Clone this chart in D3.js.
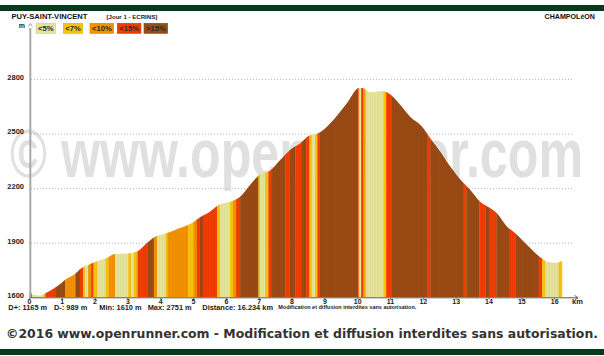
<!DOCTYPE html>
<html><head><meta charset="utf-8">
<script src="https://cdn.jsdelivr.net/npm/d3@7/dist/d3.min.js"></script>
<style>
html,body{margin:0;padding:0;background:#fff;}
svg{display:block;font-family:"Liberation Sans",Arial,Helvetica,sans-serif;}
</style>
</head><body>
<svg id="chart" width="604" height="356"></svg>
<script>
// ---- data ----
const distKm = [0,0.05,0.14,0.32,0.46,0.72,0.97,1.12,1.38,1.58,1.84,2.09,2.34,2.60,3.00,3.31,3.57,3.83,4.08,4.49,4.99,5.20,5.50,5.76,6.11,6.42,6.72,7.03,7.33,7.64,7.94,8.25,8.50,8.80,9.06,9.26,9.67,10.05,10.18,10.38,10.74,10.94,11.30,11.60,11.96,12.21,12.52,12.82,13.23,13.43,13.73,14.04,14.24,14.55,14.80,15.16,15.56,15.77,16.02,16.234];
const elevM = [1625,1622,1612,1610,1620,1645,1677,1700,1726,1759,1781,1801,1814,1838,1840,1854,1897,1933,1946,1974,2012,2040,2070,2107,2125,2153,2217,2276,2296,2354,2409,2446,2486,2501,2537,2574,2666,2751,2748,2726,2733,2721,2657,2592,2537,2474,2400,2318,2226,2190,2125,2089,2062,1988,1952,1887,1820,1796,1790,1799];
const segStartKm = [0,0.076,0.421,0.488,0.808,1.091,1.402,1.534,1.631,1.701,1.790,1.881,1.951,2.073,2.317,2.409,2.607,3.012,3.095,3.186,3.262,3.308,3.598,3.790,3.887,4.146,4.207,4.832,4.994,5.098,5.183,5.280,5.716,5.808,6.113,6.204,6.296,6.418,6.976,7.027,7.180,7.280,7.384,7.790,7.921,8.095,8.299,8.430,8.530,8.604,8.704,8.774,8.835,10.000,10.030,10.107,10.168,10.213,10.259,10.793,10.869,11.021,12.110,12.210,13.226,13.308,13.704,13.887,14.018,14.223,14.628,14.802,15.512,15.616,15.716,16.122];
const segClass = [3,0,1,3,4,2,4,3,1,0,2,3,1,0,1,2,0,1,0,1,2,3,4,2,0,1,2,1,2,3,4,3,1,0,1,2,3,4,1,0,1,3,4,3,4,3,4,3,1,0,1,3,4,3,0,3,2,1,0,1,3,4,3,4,3,4,3,4,3,4,3,4,3,1,0,1];
const classLabels = ["<5%","<7%","<10%","<15%",">15%"];
const classColors = ["#e6e39b","#f6c40e","#f39200","#f23c00","#9a4a15"];
const yTicks = [1600,1900,2200,2500,2800];
const xTicks = [0,1,2,3,4,5,6,7,8,9,10,11,12,13,14,15,16];
const totalKm = 16.234;
const startName = "PUY-SAINT-VINCENT";
const endName = "CHAMPOLéON";
const stageLabel = "[Jour 1 - ECRINS]";
const statsLabels = ["D+: 1165 m","D-: 989 m","Min: 1610 m","Max: 2751 m","Distance: 16.234 km"];
const noticeSmall = "Modification et diffusion interdites sans autorisation.";
const watermark = "© www.openrunner.com";
const copyright = "©2016 www.openrunner.com - Modification et diffusion interdites sans autorisation.";

// ---- drawing ----
const svg = d3.select("#chart");
const x = d3.scaleLinear().domain([0,16]).range([29.4, 29.4 + 16*32.83]);
const y = d3.scaleLinear().domain([1600,2800]).range([297.3, 78.9]);
const pts = distKm.map((d,i)=>({km:d, e:elevM[i]}));

svg.append("rect").attr("width",604).attr("height",356).attr("fill","#fff");

// top and bottom bars
svg.append("rect").attr("x",0).attr("y",5).attr("width",604).attr("height",6).attr("fill","#073a1d");
svg.append("rect").attr("x",0).attr("y",349).attr("width",604).attr("height",6).attr("fill","#073a1d");

// watermark (behind)
svg.append("text").attr("x",10).attr("y",177)
  .attr("font-size",68).attr("font-weight","bold").attr("fill","#e0e0e0")
  .attr("textLength",573).attr("lengthAdjust","spacingAndGlyphs")
  .text(watermark);

// gridlines
svg.append("g").selectAll("line").data(yTicks.filter(v=>v>1600)).join("line")
  .attr("x1",31).attr("x2",574).attr("y1",d=>y(d)+0.5).attr("y2",d=>y(d)+0.5)
  .attr("stroke","#b5b5b5").attr("stroke-width",1).attr("stroke-dasharray","1,2");

// profile
const area = d3.area().x(d=>x(d.km)).y0(y(1600)).y1(d=>y(d.e)).curve(d3.curveMonotoneX);
svg.append("clipPath").attr("id","prof").append("path").attr("d",area(pts));
const pg = svg.append("g").attr("clip-path","url(#prof)");
pg.selectAll("rect").data(segStartKm).join("rect")
  .attr("x",(d)=>x(d))
  .attr("width",(d,i)=>x(i<segStartKm.length-1?segStartKm[i+1]:totalKm)-x(d)+0.3)
  .attr("y",y(2800)-20).attr("height",y(1600)-y(2800)+20)
  .attr("fill",(d,i)=>classColors[segClass[i]]);
// fine vertical texture
pg.append("g").selectAll("line").data(d3.range(x(0),x(totalKm),2.6)).join("line")
  .attr("x1",d=>d).attr("x2",d=>d).attr("y1",60).attr("y2",298)
  .attr("stroke","#000").attr("stroke-opacity",0.05).attr("stroke-width",0.8);

// y axis
svg.append("line").attr("x1",30.3).attr("x2",30.3).attr("y1",28).attr("y2",298)
  .attr("stroke","#a8a8a8").attr("stroke-width",2);
svg.append("path").attr("d","M28.3,26.5 L30.3,23.5 L32.3,26.5").attr("fill","none").attr("stroke","#888").attr("stroke-width",0.8);
svg.append("text").attr("x",25).attr("y",27.5).attr("text-anchor","end")
  .attr("font-size",7).attr("font-weight","bold").attr("fill","#222").text("m");
svg.append("g").selectAll("text").data(yTicks).join("text")
  .attr("x",24).attr("y",d=>y(d)+0.8).attr("text-anchor","end")
  .attr("font-size",7.5).attr("font-weight","bold").attr("fill","#222").text(d=>d);

// x axis
svg.append("line").attr("x1",30).attr("x2",578).attr("y1",297.8).attr("y2",297.8)
  .attr("stroke","#555").attr("stroke-width",1);
svg.append("g").selectAll("line").data(xTicks).join("line")
  .attr("x1",d=>x(d)).attr("x2",d=>x(d)).attr("y1",297.8).attr("y2",299.5)
  .attr("stroke","#555").attr("stroke-width",0.8);
svg.append("path").attr("d","M574.5,295.3 L578,297.8 L574.5,300.3").attr("fill","none").attr("stroke","#444").attr("stroke-width",0.8);
svg.append("g").selectAll("text").data(xTicks).join("text")
  .attr("x",d=>x(d)).attr("y",303.8).attr("text-anchor","middle")
  .attr("font-size",7).attr("font-weight","bold").attr("fill","#222").text(d=>d);
svg.append("text").attr("x",577.5).attr("y",304).attr("text-anchor","middle")
  .attr("font-size",7.5).attr("font-weight","bold").attr("fill","#222").text("km");

// header
svg.append("text").attr("x",11.5).attr("y",18.6).attr("font-size",7.6).attr("font-weight","bold").attr("fill","#111").text(startName);
svg.append("text").attr("x",106.5).attr("y",18.5).attr("font-size",6.1).attr("font-weight","bold").attr("fill","#222").text(stageLabel);
svg.append("text").attr("x",595).attr("y",18.5).attr("text-anchor","end").attr("font-size",7.1).attr("font-weight","bold").attr("fill","#111").text(endName);

// legend
const legX = [36,63.3,90,117.3,144];
const lg = svg.append("g");
classLabels.forEach((lab,i)=>{
  const g = lg.append("g");
  const t = g.append("text").attr("x",legX[i]+2).attr("y",31.3).attr("font-size",7.6).attr("font-weight","bold").attr("fill","#2a2a2a").text(lab);
  const w = t.node().getComputedTextLength();
  g.insert("rect","text").attr("x",legX[i]).attr("y",23.3).attr("width",w+4).attr("height",10)
    .attr("fill",classColors[i]).attr("stroke",d3.color(classColors[i]).darker(0.3)).attr("stroke-width",0.6);
});

// stats
const statX = [8.3,54,99.3,147.7,202.3];
svg.append("g").selectAll("text").data(statsLabels).join("text")
  .attr("x",(d,i)=>statX[i]).attr("y",309.6).attr("font-size",7.4).attr("font-weight","bold").attr("fill","#1a1a1a").text(d=>d);
svg.append("text").attr("x",278.3).attr("y",309).attr("font-size",5.2).attr("font-weight","bold").attr("fill","#1a1a1a")
  .attr("textLength",138).attr("lengthAdjust","spacingAndGlyphs").text(noticeSmall);

// bottom copyright
svg.append("text").attr("x",6).attr("y",337.5).attr("font-family","'DejaVu Sans',Verdana,sans-serif")
  .attr("font-size",12).attr("font-weight","bold").attr("fill","#333")
  .attr("textLength",592).attr("lengthAdjust","spacingAndGlyphs").text(copyright);
</script>
</body></html>
